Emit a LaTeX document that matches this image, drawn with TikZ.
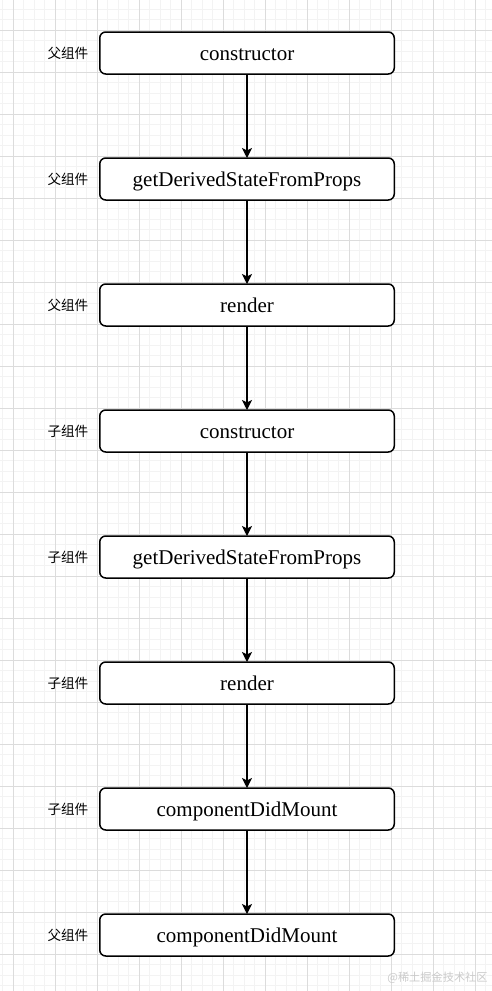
\documentclass[tikz,border=0pt]{standalone}
\usepackage{fontspec}
\setmainfont{Liberation Serif}
\newfontfamily\cjk{Noto Sans CJK SC}
\usetikzlibrary{positioning, arrows.meta}
\definecolor{gridminor}{HTML}{F3F3F3}
\definecolor{gridmajor}{HTML}{DCDCDC}
\definecolor{markgray}{HTML}{CACACA}

\begin{document}
\begin{tikzpicture}[
    >=Stealth,
    every node/.style={font=\fontsize{10.5pt}{12pt}\selectfont},
    phase/.style={
      rectangle, rounded corners=3pt, draw=black, line width=0.75pt,
      fill=white, minimum width=147.25pt, minimum height=21pt,
      text height=8.5pt, text depth=1.5pt,
      inner sep=0pt, outer sep=0pt
    },
    who/.style={
      inner sep=0pt, font=\cjk\fontsize{6.8pt}{8pt}\selectfont
    },
    arr/.style={-{Stealth[length=5pt, width=5pt, inset=1.2pt]}, line width=0.65pt},
  ]

  % ============ Canvas + grid ============
  \useasboundingbox (0,0) rectangle (246pt,-495.5pt);
  \fill[white] (0,0) rectangle (246pt,-495.5pt);
  \begin{scope}[shift={(6.5pt,-15pt)}]
    \draw[gridminor, line width=0.5pt, step=5.25pt]
      (-6.5pt,-480.5pt) grid (239.5pt,15pt);
    \draw[gridmajor, line width=0.5pt, step=21pt]
      (-6.5pt,-480.5pt) grid (239.5pt,15pt);
  \end{scope}

  % ============ Lifecycle chain ============
  \node[phase] at (123.5pt,-26.5pt) (pctor) {constructor};
  \node[phase, below=42pt of pctor]   (pderive) {getDerivedStateFromProps};
  \node[phase, below=42pt of pderive] (prender) {render};
  \node[phase, below=42pt of prender] (cctor)   {constructor};
  \node[phase, below=42pt of cctor]   (cderive) {getDerivedStateFromProps};
  \node[phase, below=42pt of cderive] (crender) {render};
  \node[phase, below=42pt of crender] (cmount)  {componentDidMount};
  \node[phase, below=42pt of cmount]  (pmount)  {componentDidMount};

  % ============ Side labels ============
  \node[who, left=5.5pt of pctor]   (w1) {父组件};
  \node[who, left=5.5pt of pderive] (w2) {父组件};
  \node[who, left=5.5pt of prender] (w3) {父组件};
  \node[who, left=5.5pt of cctor]   (w4) {子组件};
  \node[who, left=5.5pt of cderive] (w5) {子组件};
  \node[who, left=5.5pt of crender] (w6) {子组件};
  \node[who, left=5.5pt of cmount]  (w7) {子组件};
  \node[who, left=5.5pt of pmount]  (w8) {父组件};

  % ============ Arrows ============
  \draw[arr] (pctor) -- (pderive);
  \draw[arr] (pderive) -- (prender);
  \draw[arr] (prender) -- (cctor);
  \draw[arr] (cctor) -- (cderive);
  \draw[arr] (cderive) -- (crender);
  \draw[arr] (crender) -- (cmount);
  \draw[arr] (cmount) -- (pmount);

  % watermark
  \node[anchor=east, inner sep=0pt, text=markgray,
        font=\cjk\fontsize{5.6pt}{6pt}\selectfont]
    at (244pt,-489pt) (mark) {@稀土掘金技术社区};

\end{tikzpicture}
\end{document}
